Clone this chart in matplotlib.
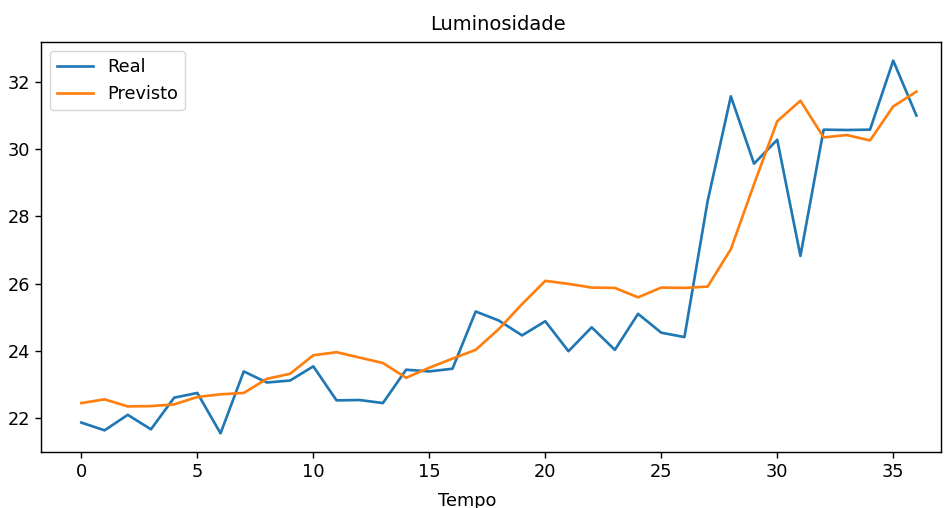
import matplotlib
matplotlib.use("Agg")
import matplotlib.pyplot as plt
import numpy as np

tempo = list(range(37))
real = [21.87, 21.64, 22.10, 21.67, 22.61, 22.75, 21.55, 23.39, 23.06, 23.12,
        23.54, 22.53, 22.54, 22.45, 23.44, 23.39, 23.47, 25.17, 24.90, 24.46,
        24.88, 23.99, 24.70, 24.03, 25.10, 24.54, 24.41, 28.45, 31.56, 29.56,
        30.27, 26.82, 30.57, 30.56, 30.57, 32.62, 30.99]
previsto = [22.45, 22.56, 22.35, 22.36, 22.41, 22.63, 22.71, 22.75, 23.17, 23.32,
            23.87, 23.96, 23.80, 23.64, 23.20, 23.50, 23.77, 24.03, 24.65, 25.39,
            26.08, 25.99, 25.88, 25.87, 25.59, 25.88, 25.87, 25.91, 27.02, 28.95,
            30.82, 31.43, 30.34, 30.41, 30.25, 31.26, 31.70]

W, H = 950, 508
fig = plt.figure(figsize=(W / 100, H / 100), dpi=100)
ax = fig.add_axes([41 / W, (H - 452) / H, (941 - 41) / W, (452 - 42) / H])

s = 1.28
ax.plot(tempo, real, color="#1f77b4", lw=1.5 * s, label="Real")
ax.plot(tempo, previsto, color="#ff7f0e", lw=1.5 * s, label="Previsto")

ax.set_xlim(-1.74, 37.06)
ax.set_yticks([22, 24, 26, 28, 30, 32])
ax.set_xticks([0, 5, 10, 15, 20, 25, 30, 35])
ax.tick_params(labelsize=10 * s, length=3.5 * s, width=0.8 * s)
for sp in ax.spines.values():
    sp.set_linewidth(0.8 * s)

ax.set_title("Luminosidade", fontsize=14, pad=9, x=0.508)
ax.set_xlabel("Tempo", fontsize=10 * s, labelpad=3)
ax.xaxis.set_label_coords(0.473, -0.097)
ax.xaxis.label.set_va("top")
ax.legend(loc="upper left", fontsize=10 * s)

fig.savefig("out.png", dpi=100)
